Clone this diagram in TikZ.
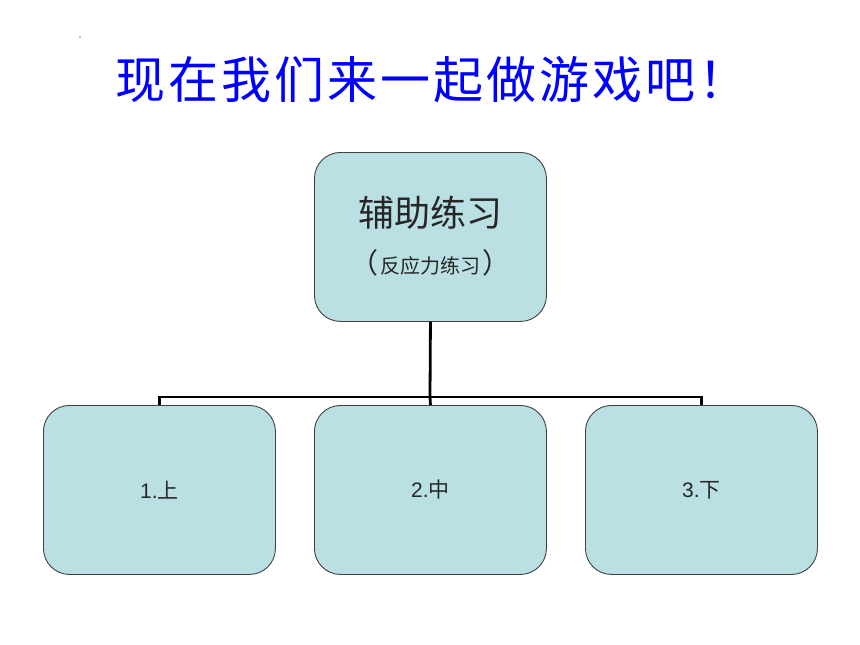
\documentclass[tikz,border=0pt]{standalone}
\usepackage{fontspec}
\setmainfont{Liberation Sans}
\newfontfamily\cjk{Noto Sans CJK SC}
\definecolor{boxfill}{HTML}{BAE0E3}
\definecolor{boxline}{HTML}{404040}
\definecolor{titleblue}{HTML}{0000FF}
\tikzset{
  box/.style={draw=boxline, line width=0.9pt, fill=boxfill, rounded corners=26pt,
    minimum width=232pt, minimum height=169pt, inner sep=0pt, anchor=north west},
  conn/.style={draw=black, line width=2.8pt},
  lbl/.style={font=\fontsize{21}{24}\selectfont, text=black!85}
}
\begin{document}
\begin{tikzpicture}[x=1pt,y=-1pt]
\useasboundingbox[fill=white] (0,0) rectangle (860,645);
\fill[black!45] (80,37) circle (0.8);
\node[text=titleblue, font=\cjk\fontsize{50}{56}\selectfont, anchor=west, inner sep=0pt] (title) at (115,80)
  {现\hspace{3pt}在\hspace{3pt}我\hspace{3pt}们\hspace{3pt}来\hspace{3pt}一\hspace{3pt}起\hspace{3pt}做\hspace{3pt}游\hspace{3pt}戏\hspace{3pt}吧\hspace{3pt}！};
\node[box] (top) at (314,152) {};
\node[box] (b1) at (43,405) {};
\node[box] (b2) at (314,405) {};
\node[box] (b3) at (585,405) {};
\node[font=\cjk\fontsize{36}{40}\selectfont, text=black!85] (t1) at (430,213) {辅助练习};
\node[font=\cjk\fontsize{20}{24}\selectfont, text=black!85] (t2) at (430,263)
  {{\fontsize{28}{30}\selectfont （}\hspace{2pt}反应力练习\hspace{2pt}{\fontsize{28}{30}\selectfont ）}};
\node[lbl] (l1) at (b1.center) {1.{\cjk 上}};
\node[lbl] (l2) at (b2.center) {2.{\cjk 中}};
\node[lbl] (l3) at (b3.center) {3.{\cjk 下}};
\coordinate (j) at (430,397);
\draw[conn] (top.south) -- (j);
\draw[conn] (b1.north) |- (j) -| (b3.north);
\draw[conn] (j) -- (b2.north);
\end{tikzpicture}
\end{document}
